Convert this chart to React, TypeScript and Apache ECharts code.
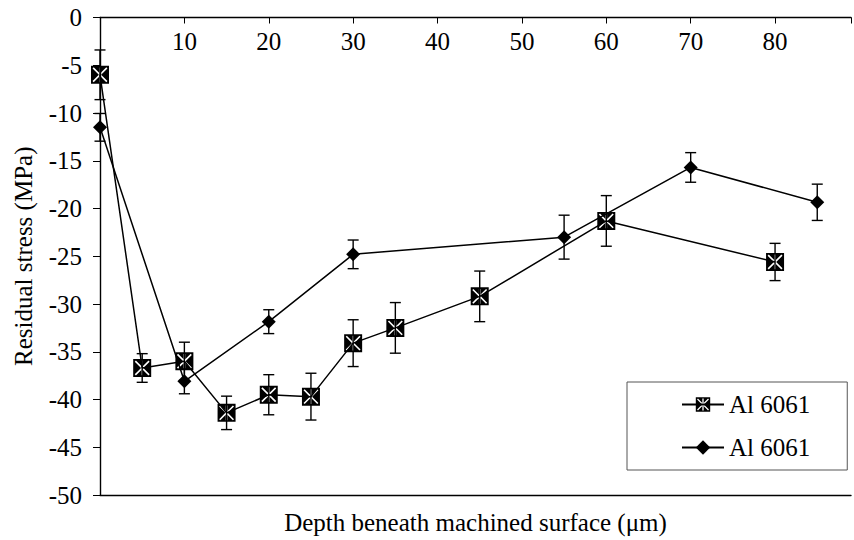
import React, { useEffect, useRef } from "react";
import * as echarts from "echarts";

// Series 1 (square markers)
const depth1 = [0, 5, 10, 15, 20, 25, 30, 35, 45, 60, 80];
const stress1 = [-6.0, -36.7, -36.0, -41.4, -39.5, -39.7, -34.1, -32.5, -29.2, -21.3, -25.6];
const err1 = [2.6, 1.5, 2.0, 1.75, 2.1, 2.45, 2.45, 2.65, 2.65, 2.65, 1.95];

// Series 2 (diamond markers)
const depth2 = [0, 10, 20, 30, 55, 70, 85];
const stress2 = [-11.5, -38.1, -31.85, -24.8, -23.0, -15.7, -19.35];
const err2 = [1.45, 1.3, 1.25, 1.5, 2.3, 1.55, 1.9];

const legendLabels = ["Al 6061", "Al 6061"];
const seriesNames = ["s1", "s2"];
const xTitle = "Depth beneath machined surface (\u03bcm)";
const yTitle = "Residual stress (MPa)";

const FONT = "Liberation Serif";
const FS = 25;

function crossBoxSymbol(): string {
  const c = 10;
  const w = 0.9;
  const arms = [
    { a: -135, L: 10.8 },
    { a: -90, L: 8.2 },
    { a: -45, L: 10.8 },
    { a: 45, L: 10.8 },
    { a: 90, L: 8.2 },
    { a: 135, L: 10.8 },
  ];
  const pts: number[][] = [];
  for (let i = 0; i < arms.length; i++) {
    const t = (arms[i].a * Math.PI) / 180;
    const L = arms[i].L;
    const d = [Math.cos(t), Math.sin(t)];
    const n = [-Math.sin(t), Math.cos(t)];
    pts.push([c + L * d[0] - w * n[0], c + L * d[1] - w * n[1]]);
    pts.push([c + L * d[0] + w * n[0], c + L * d[1] + w * n[1]]);
    let t2 = (arms[(i + 1) % arms.length].a * Math.PI) / 180;
    if (i === arms.length - 1) t2 += 2 * Math.PI;
    const mid = (t + t2) / 2;
    const half = (t2 - t) / 2;
    const r = w / Math.sin(half);
    pts.push([c + r * Math.cos(mid), c + r * Math.sin(mid)]);
  }
  pts.reverse();
  const inner = "M" + pts.map((p) => p[0].toFixed(3) + " " + p[1].toFixed(3)).join("L") + "Z";
  return "path://M0 0L20 0L20 20L0 20Z" + inner;
}

function errData(xs: number[], ys: number[], es: number[]) {
  return xs.map((x, i) => [x, ys[i] - es[i], ys[i] + es[i]]);
}

function renderErr(params: any, api: any) {
  const x = api.value(0);
  const lo = api.value(1);
  const hi = api.value(2);
  const p1 = api.coord([x, hi]);
  const p2 = api.coord([x, lo]);
  const hw = 5.5;
  const style = { stroke: "#000", lineWidth: 1.4 };
  return {
    type: "group",
    children: [
      { type: "line", shape: { x1: p1[0], y1: p1[1], x2: p2[0], y2: p2[1] }, style },
      { type: "line", shape: { x1: p1[0] - hw, y1: p1[1], x2: p1[0] + hw, y2: p1[1] }, style },
      { type: "line", shape: { x1: p2[0] - hw, y1: p2[1], x2: p2[0] + hw, y2: p2[1] }, style },
    ],
  };
}

export default function App() {
  const ref = useRef<HTMLDivElement>(null);
  useEffect(() => {
    if (!ref.current) return;
    const chart = echarts.init(ref.current, undefined, { renderer: "svg" });
    const axisLineStyle = { color: "#000", width: 1.4 };
    const option: any = {
      animation: false,
      backgroundColor: "#fff",
      textStyle: { fontFamily: FONT, color: "#000" },
      grid: { left: 100, top: 17.5, right: 0, bottom: 45, containLabel: false },
      legend: {
        show: true,
        orient: "vertical",
        left: 627,
        top: 382,
        padding: [10, 37, 10, 54],
        itemGap: 18,
        itemWidth: 42,
        itemHeight: 18,
        borderColor: "#555",
        borderWidth: 1,
        backgroundColor: "#fff",
        data: seriesNames,
        formatter: (name: string) => legendLabels[seriesNames.indexOf(name)],
        textStyle: { fontFamily: FONT, fontSize: FS, color: "#000" },
      },
      xAxis: [
        {
          type: "value",
          position: "top",
          min: 0,
          max: 89,
          interval: 10,
          axisLine: { show: true, onZero: false, lineStyle: axisLineStyle },
          axisTick: { show: true, inside: true, length: 6, lineStyle: { color: "#000", width: 1 } },
          axisLabel: {
            inside: true,
            margin: 11,
            fontFamily: FONT,
            fontSize: FS,
            color: "#000",
            formatter: (v: number) => (v !== 0 && v % 10 === 0 ? String(v) : ""),
          },
          splitLine: { show: false },
        },
        {
          type: "value",
          position: "bottom",
          min: 0,
          max: 89,
          interval: 10,
          axisLine: { show: true, onZero: false, lineStyle: axisLineStyle },
          axisTick: { show: false },
          axisLabel: { show: false },
          splitLine: { show: false },
          name: xTitle,
          nameLocation: "middle",
          nameGap: 15,
          nameTextStyle: { fontFamily: FONT, fontSize: FS, color: "#000" },
        },
      ],
      yAxis: {
        type: "value",
        min: -50,
        max: 0,
        interval: 5,
        axisLine: { show: true, lineStyle: axisLineStyle },
        axisTick: { show: true, length: 7, lineStyle: { color: "#000", width: 1 } },
        axisLabel: { margin: 18, fontFamily: FONT, fontSize: FS, color: "#000" },
        splitLine: { show: false },
        name: yTitle,
        nameLocation: "middle",
        nameGap: 64,
        nameRotate: 90,
        nameTextStyle: { fontFamily: FONT, fontSize: FS, color: "#000" },
      },
      series: [
        {
          type: "custom",
          xAxisIndex: 0,
          renderItem: renderErr,
          data: errData(depth1, stress1, err1),
          encode: { x: 0, y: [1, 2] },
          z: 1,
          silent: true,
        },
        {
          type: "custom",
          xAxisIndex: 0,
          renderItem: renderErr,
          data: errData(depth2, stress2, err2),
          encode: { x: 0, y: [1, 2] },
          z: 1,
          silent: true,
        },
        {
          name: seriesNames[0],
          type: "line",
          xAxisIndex: 0,
          data: depth1.map((x, i) => [x, stress1[i]]),
          symbol: crossBoxSymbol(),
          symbolSize: 18,
          showAllSymbol: true,
          lineStyle: { color: "#000", width: 1.5 },
          itemStyle: { color: "#000" },
          z: 3,
        },
        {
          name: seriesNames[1],
          type: "line",
          xAxisIndex: 0,
          data: depth2.map((x, i) => [x, stress2[i]]),
          symbol: "diamond",
          symbolSize: 14,
          showAllSymbol: true,
          lineStyle: { color: "#000", width: 1.5 },
          itemStyle: { color: "#000" },
          z: 3,
        },
      ],
    };
    chart.setOption(option);
    return () => chart.dispose();
  }, []);
  return (
    <div
      ref={ref}
      style={{ position: "fixed", left: 0, top: 0, width: 854, height: 540, background: "#fff" }}
    />
  );
}
